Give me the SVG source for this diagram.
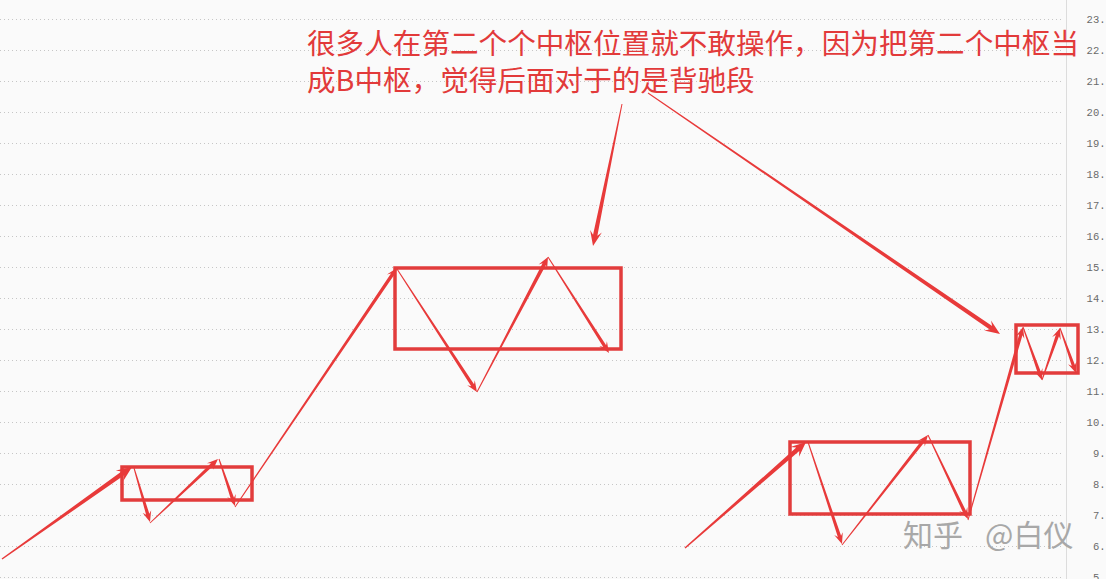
<svg xmlns="http://www.w3.org/2000/svg" width="1106" height="579" viewBox="0 0 1106 579">
<style>
.grid{stroke:#c6c6c6;stroke-width:1;stroke-dasharray:1 3;fill:none}
.axis{stroke:#dcdcdc;stroke-width:1;fill:none}
.lbl{font-family:"Liberation Mono",monospace;font-size:10.5px;fill:#6a6a6a;text-anchor:end}
.box{fill:none;stroke:#e23c3c;stroke-width:3.5}
.arr{fill:#e83a3a;stroke:none}
.note{font-family:"Noto Sans CJK SC","Noto Sans",sans-serif;font-size:28.6px;fill:#e23a3a}
.wm{font-family:"Noto Sans CJK SC","Noto Sans",sans-serif;font-size:30px;fill:#a8a8a8}
</style>
<rect x="0" y="0" width="1106" height="579" fill="#fafafa"/>
<g id="grid">
<path class="grid" d="M0 19.5H1064M0 50.5H1064M0 81.5H1064M0 112.5H1064M0 143.5H1064M0 174.5H1064M0 205.5H1064M0 236.5H1064M0 267.5H1064M0 298.5H1064M0 329.5H1064M0 360.5H1064M0 391.5H1064M0 422.5H1064M0 453.5H1064M0 484.5H1064M0 515.5H1064M0 546.5H1064M0 577.5H1064"/>
<path class="axis" d="M1066.5 0V579"/>
</g>
<g id="axis-labels">
<text class="lbl" x="1105.5" y="23">23.</text>
<text class="lbl" x="1105.5" y="54">22.</text>
<text class="lbl" x="1105.5" y="85">21.</text>
<text class="lbl" x="1105.5" y="116">20.</text>
<text class="lbl" x="1105.5" y="147">19.</text>
<text class="lbl" x="1105.5" y="178">18.</text>
<text class="lbl" x="1105.5" y="209">17.</text>
<text class="lbl" x="1105.5" y="240">16.</text>
<text class="lbl" x="1105.5" y="271">15.</text>
<text class="lbl" x="1105.5" y="302">14.</text>
<text class="lbl" x="1105.5" y="333">13.</text>
<text class="lbl" x="1105.5" y="364">12.</text>
<text class="lbl" x="1105.5" y="395">11.</text>
<text class="lbl" x="1105.5" y="426">10.</text>
<text class="lbl" x="1105.5" y="457">9.</text>
<text class="lbl" x="1105.5" y="488">8.</text>
<text class="lbl" x="1105.5" y="519">7.</text>
<text class="lbl" x="1105.5" y="550">6.</text>
<text class="lbl" x="1105.5" y="581">5.</text>
</g>
<g id="box-left"><rect class="box" x="122" y="467" width="130" height="33"/></g>
<g id="box-middle"><rect class="box" x="395" y="268" width="226" height="81"/></g>
<g id="box-right-low"><rect class="box" x="790" y="442" width="180" height="72"/></g>
<g id="box-right-high"><rect class="box" x="1016" y="325" width="62" height="48"/></g>
<g id="note">
<text class="note" x="307" y="54">很多人在第二个个中枢位置就不敢操作，因为把第二个中枢当</text>
<text class="note" x="307" y="91">成B中枢，觉得后面对于的是背驰段</text>
</g>
<g id="watermark">
<text class="wm" y="546"><tspan x="903">知乎</tspan><tspan x="985">@白仪</tspan></text>
</g>
<g id="connectors">
<polygon class="arr" transform="translate(2 559) rotate(-35.3)" points="0,-0.7 148,-2.3 144,-6.5 159.3,0 144,6.5 148,2.3 0,0.7"/>
<polygon class="arr" transform="translate(134 468) rotate(73.5)" points="0,-0.5 48.3,-1.7 45.3,-4.5 56.3,0 45.3,4.5 48.3,1.7 0,0.5"/>
<polygon class="arr" transform="translate(150 523) rotate(-43.3)" points="0,-0.5 85.4,-1.7 82.4,-4.5 93.4,0 82.4,4.5 85.4,1.7 0,0.5"/>
<polygon class="arr" transform="translate(219 459) rotate(71.2)" points="0,-0.5 41.6,-1.7 38.6,-4.5 49.6,0 38.6,4.5 41.6,1.7 0,0.5"/>
<polygon class="arr" transform="translate(235 507) rotate(-55.9)" points="0,-0.5 280.7,-1.7 277.7,-4.5 288.7,0 277.7,4.5 280.7,1.7 0,0.5"/>
<polygon class="arr" transform="translate(397 269) rotate(56.96)" points="0,-0.5 138.7,-1.7 135.7,-4.5 146.7,0 135.7,4.5 138.7,1.7 0,0.5"/>
<polygon class="arr" transform="translate(477 392) rotate(-62.26)" points="0,-0.5 144.5,-1.9 141.5,-4.8 152.5,0 141.5,4.8 144.5,1.9 0,0.5"/>
<polygon class="arr" transform="translate(548 257) rotate(57.56)" points="0,-0.5 105.7,-1.7 102.7,-4.5 113.7,0 102.7,4.5 105.7,1.7 0,0.5"/>
<polygon class="arr" transform="translate(685 548) rotate(-41.22)" points="0,-0.7 149.9,-2.3 145.9,-6.5 160.9,0 145.9,6.5 149.9,2.3 0,0.7"/>
<polygon class="arr" transform="translate(808 442) rotate(71.57)" points="0,-0.5 99.5,-1.7 96.5,-4.5 107.5,0 96.5,4.5 99.5,1.7 0,0.5"/>
<polygon class="arr" transform="translate(842 545) rotate(-51.99)" points="0,-0.5 131.6,-1.7 128.6,-4.5 139.6,0 128.6,4.5 131.6,1.7 0,0.5"/>
<polygon class="arr" transform="translate(928 435) rotate(64.54)" points="0,-0.5 85,-1.7 82,-4.5 93,0 82,4.5 85,1.7 0,0.5"/>
<polygon class="arr" transform="translate(968 520) rotate(-74.09)" points="0,-0.5 192.7,-1.7 189.7,-4.5 200.7,0 189.7,4.5 192.7,1.7 0,0.5"/>
<polygon class="arr" transform="translate(1023 327) rotate(70.28)" points="0,-0.5 48.3,-1.7 45.3,-4.5 56.3,0 45.3,4.5 48.3,1.7 0,0.5"/>
<polygon class="arr" transform="translate(1042 380) rotate(-70.9)" points="0,-0.5 47,-1.7 44,-4.5 55,0 44,4.5 47,1.7 0,0.5"/>
<polygon class="arr" transform="translate(1060 328) rotate(70.4)" points="0,-0.5 39.8,-1.7 36.8,-4.5 47.8,0 36.8,4.5 39.8,1.7 0,0.5"/>
<polygon class="arr" transform="translate(622 104) rotate(101.54)" points="0,-0.5 133.9,-2.2 129.9,-6 144.9,0 129.9,6 133.9,2.2 0,0.5"/>
<polygon class="arr" transform="translate(648 93) rotate(34.4)" points="0,-0.5 415.6,-2.2 411.6,-6 426.6,0 411.6,6 415.6,2.2 0,0.5"/>
</g>
</svg>
